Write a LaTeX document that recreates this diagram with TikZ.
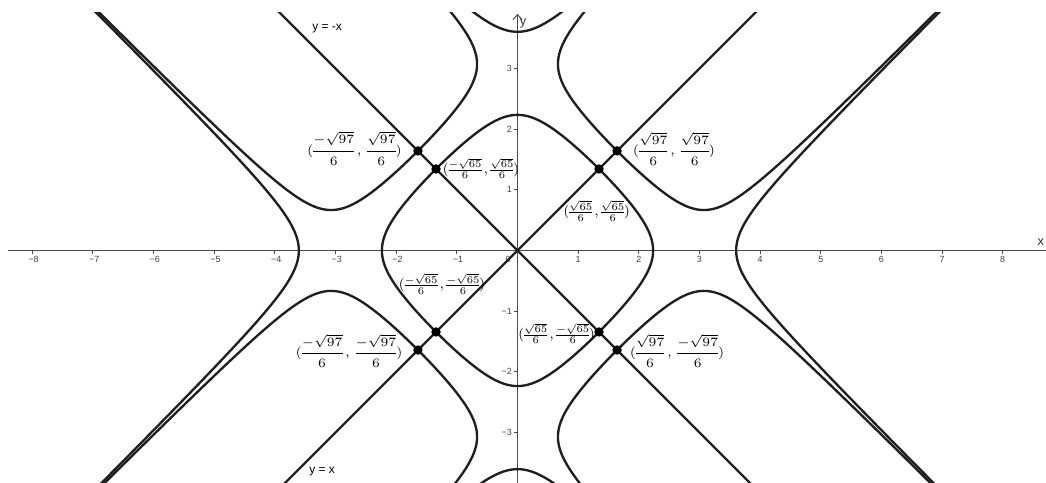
\documentclass[tikz,border=0pt]{standalone}
\usepackage{amsmath}
\usepackage{fontspec}
\newfontfamily\ggfont{Liberation Sans}
\usetikzlibrary{arrows.meta}
\begin{document}
\setlength{\nulldelimiterspace}{0pt}
\begin{tikzpicture}[x=1cm,y=1cm,
  declare function={
    hs(\w)=sqrt(9+4*exp(\w));
    ht(\w)=sqrt(9+4*exp(-\w));
    qs(\w)=sqrt(9+16/9*cosh(\w)^2);
    qt(\w)=3*tanh(\w);
    dr(\t)=sqrt(65/(9+sqrt(81-65*cos(2*\t)^2)));
  },
  curve/.style={line width=1.1pt, color=black!88, line join=round},
  ax/.style={line width=0.45pt, color=black!70},
  ticklab/.style={font=\ggfont\fontsize{4.2}{5}\selectfont, inner sep=0pt, text=black!75},
  axlab/.style={font=\ggfont\fontsize{6}{7}\selectfont, inner sep=0pt, text=black!80},
  linelab/.style={font=\ggfont\fontsize{5.6}{6.5}\selectfont, inner sep=0pt},
  ptdot/.style={circle, fill=black, inner sep=0pt, minimum size=0.155cm},
  biglab/.style={font=\fontsize{6.4}{7.5}\selectfont, inner sep=0pt},
  smalllab/.style={font=\fontsize{8}{9.6}\selectfont, inner sep=0pt, scale=0.81, transform shape}
]
\useasboundingbox (-8.533,-3.833) rectangle (8.714,4.130);

% axes
\draw[ax] (-8.40,0) -- (8.714,0);
\draw[ax,-{Straight Barb[length=2.4pt,width=4.4pt]}] (0,-3.833) -- (0,3.90);
\foreach \i in {1,...,8} {
  \draw[ax] (\i,0) -- (\i,-0.05);
  \draw[ax] (-\i,0) -- (-\i,-0.05);
  \node[ticklab] at (\i,-0.148) {\i};
  \node[ticklab] at (-\i+0.02,-0.148) {−\i};
}
\foreach \j in {1,2,3} {
  \draw[ax] (0,\j) -- (-0.05,\j);
  \draw[ax] (0,-\j) -- (-0.05,-\j);
  \node[ticklab,anchor=east] at (-0.086,\j) {\j};
  \node[ticklab,anchor=east] at (-0.086,-\j) {−\j};
}
\node[ticklab] at (-0.157,-0.14) {0};
\node[axlab] at (8.63,0.14) {x};
\node[axlab] at (0.09,3.75) {y};

\begin{scope}
\clip (-8.40,-3.833) rectangle (8.714,3.916);
% lines y = x and y = -x
\draw[curve] (-4.3,-4.3) -- (4.3,4.3);
\draw[curve] (-4.3,4.3) -- (4.3,-4.3);
% level curve f = -65: inner closed curve
\draw[curve] plot[domain=0:360, samples=241, variable=\t] (\t:{dr(\t)}) -- cycle;
% level curve f = -65: outer branches (right, left, top, bottom)
\draw[curve] plot[domain=-3.6:3.6, samples=151, smooth, variable=\w] ({(hs(\w)+ht(\w))/2},{(hs(\w)-ht(\w))/2});
\draw[curve] plot[domain=-3.6:3.6, samples=151, smooth, variable=\w] ({-(hs(\w)+ht(\w))/2},{-(hs(\w)-ht(\w))/2});
\draw[curve] plot[domain=-3.6:3.6, samples=151, smooth, variable=\w] ({(hs(\w)-ht(\w))/2},{(hs(\w)+ht(\w))/2});
\draw[curve] plot[domain=-3.6:3.6, samples=151, smooth, variable=\w] ({-(hs(\w)-ht(\w))/2},{-(hs(\w)+ht(\w))/2});
% level curve f = -97: one branch in each quadrant
\foreach \a/\b in {1/1,-1/1,1/-1,-1/-1} {
  \draw[curve] plot[domain=-2.9:2.9, samples=181, smooth, variable=\w] ({\a*(qs(\w)+qt(\w))/2},{\b*(qs(\w)-qt(\w))/2});
}
\end{scope}

% line labels
\node[linelab] (lmx) at (-3.141,3.652) {y = -x};
\node[linelab] (lpx) at (-3.223,-3.652) {y = x};

% intersection points
\node[ptdot] (p1) at (1.6415,1.6415) {};
\node[ptdot] (p2) at (-1.6415,1.6415) {};
\node[ptdot] (p3) at (-1.6415,-1.6415) {};
\node[ptdot] (p4) at (1.6415,-1.6415) {};
\node[ptdot] (q1) at (1.3437,1.3437) {};
\node[ptdot] (q2) at (-1.3437,1.3437) {};
\node[ptdot] (q3) at (-1.3437,-1.3437) {};
\node[ptdot] (q4) at (1.3437,-1.3437) {};

% point labels
\node[biglab] (l2) at (-2.688,1.682) {$(\dfrac{-\sqrt{97}}{6}\,,\,\dfrac{\sqrt{97}}{6})$};
\node[biglab] (l1) at (2.580,1.674) {$(\dfrac{\sqrt{97}}{6}\,,\,\dfrac{\sqrt{97}}{6})$};
\node[biglab] (l3) at (-2.778,-1.657) {$(\dfrac{-\sqrt{97}}{6}\,,\,\dfrac{-\sqrt{97}}{6})$};
\node[biglab] (l4) at (2.630,-1.657) {$(\dfrac{\sqrt{97}}{6}\,,\,\dfrac{-\sqrt{97}}{6})$};
\node[smalllab] (m2) at (-0.602,1.352) {$(\frac{-\sqrt{65}}{6}\,,\frac{\sqrt{65}}{6})$};
\node[smalllab] (m1) at (1.306,0.651) {$(\frac{\sqrt{65}}{6}\,,\frac{\sqrt{65}}{6})$};
\node[smalllab] (m3) at (-1.245,-0.552) {$(\frac{-\sqrt{65}}{6}\,,\frac{-\sqrt{65}}{6})$};
\node[smalllab] (m4) at (0.646,-1.369) {$(\frac{\sqrt{65}}{6}\,,\frac{-\sqrt{65}}{6})$};
\end{tikzpicture}
\end{document}
